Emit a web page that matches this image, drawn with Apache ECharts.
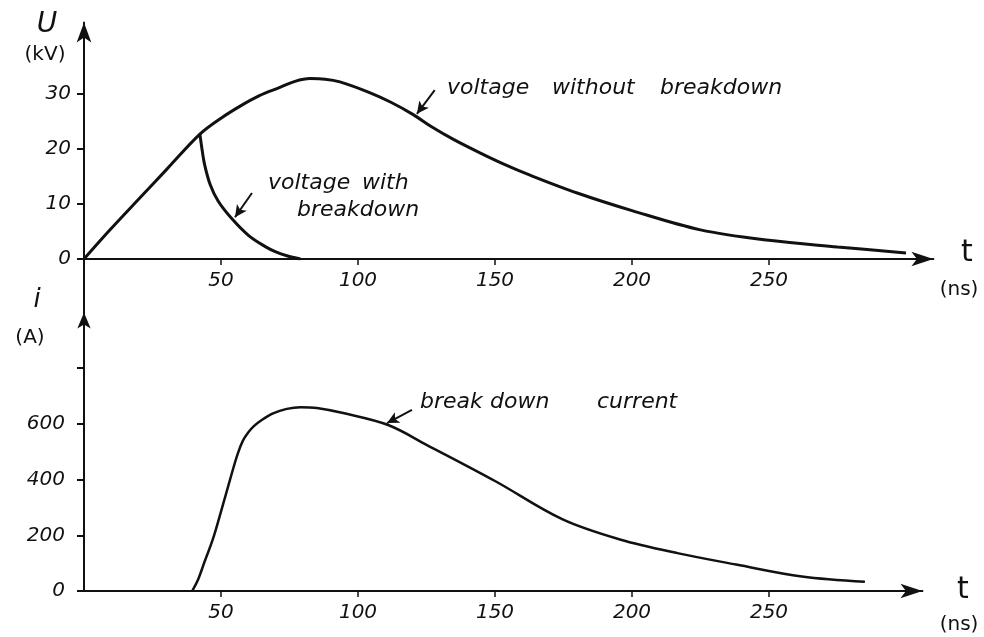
<!DOCTYPE html>
<html>
<head>
<meta charset="utf-8">
<script src="https://cdn.jsdelivr.net/npm/echarts@6/dist/echarts.min.js"></script>
<style>
  html, body { margin: 0; padding: 0; background: #fff; }
  #chart { width: 984px; height: 637px; }
</style>
</head>
<body>
<div id="chart"></div>
<script>
// Time axis ticks (ns)
const timeTicks = [50, 100, 150, 200, 250];
// Voltage axis ticks (kV) and current axis ticks (A)
const voltageTicks = [0, 10, 20, 30];
const currentTicks = [0, 200, 400, 600, 800];
const currentLabels = [0, 200, 400, 600];

// Voltage without breakdown: [t (ns), U (kV)]
const voltageNoBreakdown = [
  [0, 0], [9.5, 5.3], [20, 10.9], [30, 16.2], [42.3, 22.7], [50, 25.6], [57, 27.8],
  [64, 29.7], [71.5, 31.2], [77, 32.3], [82.5, 32.8], [88, 32.7], [93.4, 32.2],
  [104, 30.3], [112, 28.5], [120, 26.3], [127, 24.0], [135, 21.7], [144.5, 19.3],
  [153, 17.3], [163, 15.2], [180, 12.0], [200, 8.8], [225, 5.3], [250, 3.4],
  [275, 2.2], [300, 1.1]
];

// Voltage with breakdown, from the moment of breakdown: [t (ns), U (kV)]
const voltageWithBreakdown = [
  [42.3, 22.7], [43, 20.2], [44, 17.2], [46, 13.6], [49, 10.5], [54, 7.3],
  [60, 4.3], [66, 2.3], [70, 1.3], [74, 0.6], [79, 0]
];

// Breakdown current: [t (ns), i (A)]
const breakdownCurrent = [
  [39.5, 0], [41.6, 40], [44, 105], [47, 185], [50, 285], [53.3, 400], [56, 490],
  [58, 540], [60, 570], [62, 592], [65, 615], [69, 638], [74, 654], [79, 660],
  [85, 657], [95, 638], [111, 596], [125, 525], [150, 395], [174.5, 258],
  [195.6, 185], [217, 135], [238, 95], [262, 52], [285, 33]
];

const HAND = '"DejaVu Sans", sans-serif';
const INK = '#111';

const labelStyle = {
  fontFamily: HAND, fontStyle: 'italic', fontSize: 20, color: INK
};

function timeAxis(gridIndex, max) {
  return {
    type: 'value', gridIndex, min: 0, max,
    axisLine: { show: true, symbol: ['none', 'arrow'], symbolSize: [11, 22],
      lineStyle: { color: INK, width: 2 } },
    axisTick: { show: true, length: 6, lineStyle: { color: INK, width: 1.5 },
      customValues: timeTicks },
    axisLabel: Object.assign({ margin: 12, customValues: timeTicks }, labelStyle),
    splitLine: { show: false }
  };
}

const arrowLine = (from, to) => [{ coord: from }, { coord: to }];
const markArrow = (pairs) => ({
  silent: true, animation: false,
  symbol: ['none', 'arrow'], symbolSize: [9, 12],
  lineStyle: { color: INK, width: 2, type: 'solid' },
  label: { show: false }, emphasis: { disabled: true },
  data: pairs
});

const curveStyle = { color: INK, width: 3 };

function word(text, x, y, size, italic) {
  return { type: 'text', x, y, style: {
    text, font: `${italic ? 'italic ' : ''}${size}px ${HAND}`, fill: INK,
    textAlign: 'left', textVerticalAlign: 'middle' } };
}
function centred(text, x, y, size, italic) {
  const w = word(text, x, y, size, italic);
  w.style.textAlign = 'center';
  return w;
}

const option = {
  animation: false,
  backgroundColor: '#fff',
  grid: [
    { left: 84, width: 310 * 2.74, top: 22.5, height: 43 * 5.5 },
    { left: 84, width: 306 * 2.74, top: 312.5, height: 278.5 },
    // short stretch of the shared vertical axis between the two panels
    { left: 84, width: 10, top: 259, height: 54 }
  ],
  xAxis: [
    timeAxis(0, 310),
    timeAxis(1, 306),
    { type: 'value', gridIndex: 2, show: false, min: 0, max: 1 }
  ],
  yAxis: [
    {
      type: 'value', gridIndex: 0, min: 0, max: 43,
      axisLine: { show: true, symbol: ['none', 'arrow'], symbolSize: [11, 20],
        lineStyle: { color: INK, width: 2 } },
      axisTick: { show: true, length: 7, lineStyle: { color: INK, width: 2 },
        customValues: voltageTicks },
      axisLabel: Object.assign({ margin: 13, customValues: voltageTicks }, labelStyle),
      splitLine: { show: false }
    },
    {
      type: 'value', gridIndex: 1, min: 0, max: 1000,
      axisLine: { show: true, symbol: ['none', 'arrow'], symbolSize: [10, 16],
        lineStyle: { color: INK, width: 2 } },
      axisTick: { show: true, length: 7, lineStyle: { color: INK, width: 2 },
        customValues: currentTicks },
      axisLabel: Object.assign({ margin: 19, customValues: currentLabels }, labelStyle),
      splitLine: { show: false }
    },
    {
      type: 'value', gridIndex: 2, min: 0, max: 1,
      axisLine: { show: true, lineStyle: { color: INK, width: 2 } },
      axisTick: { show: false }, axisLabel: { show: false }, splitLine: { show: false }
    }
  ],
  series: [
    {
      name: 'voltage without breakdown', type: 'line', xAxisIndex: 0, yAxisIndex: 0,
      data: voltageNoBreakdown, smooth: 0.35, showSymbol: false, lineStyle: curveStyle,
      markLine: markArrow([ arrowLine([128, 30.7], [121.5, 26.4]) ])
    },
    {
      name: 'voltage with breakdown', type: 'line', xAxisIndex: 0, yAxisIndex: 0,
      data: voltageWithBreakdown, smooth: 0.35, showSymbol: false, lineStyle: curveStyle,
      markLine: markArrow([ arrowLine([61.3, 12], [55.1, 7.6]) ])
    },
    {
      name: 'breakdown current', type: 'line', xAxisIndex: 1, yAxisIndex: 1,
      data: breakdownCurrent, smooth: 0.35, showSymbol: false, lineStyle: { color: INK, width: 2.5 },
      markLine: markArrow([ arrowLine([119.7, 650], [110.6, 603]) ])
    }
  ],
  graphic: [
    // axis names
    centred('U', 47, 25, 28, true),
    centred('(kV)', 45, 55, 20, false),
    centred('i', 37, 300, 26, true),
    centred('(A)', 30, 338, 20, false),
    centred('t', 967, 253, 30, false),
    centred('(ns)', 959, 290, 20, false),
    centred('t', 963, 590, 30, false),
    centred('(ns)', 959, 625, 20, false),
    // curve annotations
    word('voltage', 447, 88, 22, true),
    word('without', 552, 88, 22, true),
    word('breakdown', 660, 88, 22, true),
    word('voltage', 268, 183, 22, true),
    word('with', 362, 183, 22, true),
    word('breakdown', 297, 210, 22, true),
    word('break', 420, 402, 22, true),
    word('down', 490, 402, 22, true),
    word('current', 597, 402, 22, true)
  ]
};

const chart = echarts.init(document.getElementById('chart'), null, { renderer: 'canvas' });
chart.setOption(option);
</script>
</body>
</html>
